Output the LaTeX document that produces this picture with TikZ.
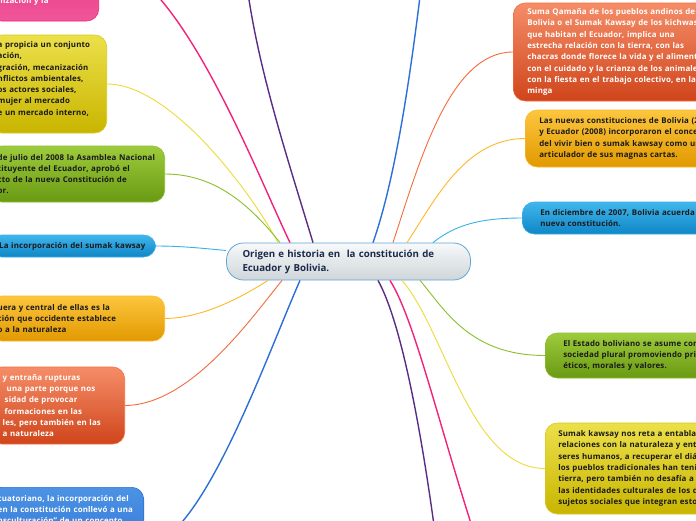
\documentclass[tikz,border=0pt]{standalone}
\usepackage{fontspec}
\setmainfont{Open Sans}[LetterSpace=1.8]
\newfontfamily\centrefont{Open Sans}
\usetikzlibrary{calc}
\hyphenpenalty=10000
\exhyphenpenalty=10000
\definecolor{pinkA}{HTML}{E0126C}\definecolor{pinkB}{HTML}{F0569A}\definecolor{pinkL}{HTML}{F2237D}
\definecolor{yelA}{HTML}{ECE04A}\definecolor{yelB}{HTML}{C9B500}\definecolor{yelL}{HTML}{EEDB3A}\definecolor{yelD}{HTML}{D9C821}
\definecolor{grnA}{HTML}{9DCB3C}\definecolor{grnB}{HTML}{6A9A12}\definecolor{grnL}{HTML}{8DBF2E}
\definecolor{lbA}{HTML}{3FB6EC}\definecolor{lbB}{HTML}{0F86C6}\definecolor{lbL}{HTML}{3AB0E8}
\definecolor{orA}{HTML}{FDC63E}\definecolor{orB}{HTML}{E19900}\definecolor{orL}{HTML}{FDB92A}
\definecolor{rdA}{HTML}{F58D68}\definecolor{rdB}{HTML}{D0451B}\definecolor{rdL}{HTML}{F46C3E}
\definecolor{bdA}{HTML}{4C93E4}\definecolor{bdB}{HTML}{1E62CB}\definecolor{bdL}{HTML}{2C6FD8}
\definecolor{purL}{HTML}{5A2D84}
\definecolor{cA}{HTML}{F7F9FA}\definecolor{cB}{HTML}{CFD5D9}\definecolor{cL}{HTML}{5FA6DA}
\definecolor{txt}{HTML}{1A1A1A}\definecolor{ctxt}{HTML}{1B2A4A}
\begin{document}
\begin{tikzpicture}[x=1pt,y=-1pt,
  box/.style={rectangle, rounded corners=12pt, draw, line width=0.6pt,
    font=\bfseries\fontsize{7.9}{11.3}\selectfont, align=left, inner ysep=4pt, text=txt},
  lbox/.style={box, anchor=east, inner xsep=8pt},
  rbox/.style={box, anchor=west, minimum width=260pt},
  link/.style={line width=0.9pt},
  blink/.style={line width=1.4pt},
  fpink/.style={top color=pinkA, bottom color=pinkB, draw=pinkL, text=white},
  fyel/.style={top color=yelA, bottom color=yelB, draw=yelD},
  fgrn/.style={top color=grnA, bottom color=grnB, draw=grnL},
  flb/.style={top color=lbA, bottom color=lbB, draw=lbL},
  for/.style={top color=orA, bottom color=orB, draw=orL},
  frd/.style={top color=rdA, bottom color=rdB, draw=rdL, text=white},
  fbd/.style={top color=bdA, bottom color=bdB, draw=bdL, text=white},
]
\useasboundingbox (0,0) rectangle (696,520);
\fill[white] (0,0) rectangle (696,520);
\clip (0,0) rectangle (696,520);

% centre
\node[rectangle, rounded corners=17pt, top color=cA, bottom color=cB, draw=cL, line width=0.8pt,
  minimum width=244pt, minimum height=37pt, inner xsep=16pt, text width=212pt, align=left,
  font=\centrefont\bfseries\fontsize{9.7}{14}\selectfont, text=ctxt] (C) at (348.5,261.5)
  {Origen e historia en~ la constitución de\\Ecuador y Bolivia.};

% left nodes
\node[lbox, fpink, minimum width=109pt, minimum height=121pt, text width=93pt,
  text height=87pt, text depth=2pt] (L1) at (99,-39.5) {nización y la};
\node[lbox, fyel, minimum width=117pt, minimum height=98pt, text width=101pt] (L2) at (107,84)
  {a propicia un conjunto\\ación,\\gración, mecanización\\nflictos ambientales,\\os actores sociales,\\mujer al mercado\\e un mercado interno,\\\mbox{}};
\node[lbox, fgrn, minimum width=175pt, minimum height=56pt, text width=159pt] (L3) at (165,174)
  {de julio del 2008 la Asamblea Nacional\\tituyente del Ecuador, aprobó el\\cto de la nueva Constitución de\\or.};
\node[lbox, flb, minimum width=166pt, minimum height=22pt, text width=147pt, inner xsep=9.5pt] (L4) at (156,246)
  {La incorporación del sumak kawsay};
\node[lbox, for, minimum width=175pt, minimum height=45pt, text width=159pt] (L5) at (165,318.5)
  {uera y central de ellas es la\\ción que occidente establece\\o a la naturaleza};
\node[lbox, frd, minimum width=135pt, minimum height=77pt, text width=119pt] (L6) at (125,405.5)
  {\hspace*{5pt}y entraña rupturas\\\hspace*{9pt}una parte porque nos\\\hspace*{7pt}sidad de provocar\\\hspace*{7pt}formaciones en las\\\hspace*{5pt}les, pero también en las\\\hspace*{5pt}a naturaleza};
\node[lbox, fbd, anchor=north east, minimum width=154pt, text width=138pt,
  text height=10pt, text depth=100pt] (L7) at (144,487)
  {cuatoriano, la incorporación del\\en la constitución conllevó a una\\nsculturación” de un concepto};

% right nodes
\node[rbox, frd, minimum height=98pt, inner xsep=14pt, text width=232pt] (R1) at (513,52)
  {Suma Qamaña de los pueblos andinos de\\Bolivia o el Sumak Kawsay de los kichwas\\que habitan el Ecuador, implica una\\estrecha relación con la tierra, con las\\chacras donde florece la vida y el alimento,\\con el cuidado y la crianza de los animales,\\con la fiesta en el trabajo colectivo, en la\\minga};
\node[rbox, for, minimum height=57pt, inner xsep=14pt, text width=232pt] (R2) at (525,138.5)
  {Las nuevas constituciones de Bolivia (20\\y Ecuador (2008) incorporaron el concep\\del vivir bien o sumak kawsay como un\\articulador de sus magnas cartas.};
\node[rbox, flb, minimum height=32pt, inner xsep=18pt, text width=224pt] (R3) at (522,218)
  {En diciembre de 2007, Bolivia acuerda u\\nueva constitución.};
\node[rbox, fgrn, minimum height=45pt, inner xsep=18pt, text width=224pt] (R4) at (545,355.5)
  {El Estado boliviano se asume com\\sociedad plural promoviendo prin\\éticos, morales y valores.};
\node[rbox, fyel, minimum height=91pt, inner xsep=13pt, text width=234pt] (R5) at (545,468.5)
  {Sumak kawsay nos reta a entablar\\relaciones con la naturaleza y entr\\seres humanos, a recuperar el diál\\los pueblos tradicionales han tenid\\tierra, pero también no desafía a e\\las identidades culturales de los di\\sujetos sociales que integran estos};

% off-picture ends
\coordinate (Tpur) at (245,-30);
\coordinate (Tblu) at (422,-20);
\coordinate (Bpur) at (436,540);
\coordinate (Bpnk) at (478,545);

% connectors
\draw[blink, pinkL] ($(C.north)+(-58.5,0)$) .. controls (255,170) and (175,-40) .. (L1.east);
\draw[blink, purL] ($(C.north)+(-35.5,0)$) .. controls (285,150) and (255,60) .. (Tpur);
\draw[blink, bdL] ($(C.north)+(24.5,0)$) .. controls (395,180) and (410,80) .. (Tblu);
\draw[link, yelL] ($(C.north)+(-70.5,0)$) .. controls (250,190) and (170,84) .. (L2.east);
\draw[link, grnL] ($(C.north)+(-68.5,0)$) .. controls (250,205) and (215,174) .. (L3.east);
\draw[link, lbL] ($(C.west)+(0,-11)$) .. controls (200,248) and (180,246) .. (L4.east);
\draw[link, orL] ($(C.south)+(-80.5,0)$) .. controls (245,295) and (205,318) .. (L5.east);
\draw[link, rdL] ($(C.south)+(-66.5,0)$) .. controls (250,320) and (190,405) .. (L6.east);
\draw[blink, bdL] ($(C.south)+(-48.5,0)$) .. controls (265,360) and (200,546) .. (L7.east);
\draw[blink, purL] ($(C.south)+(29.5,0)$) .. controls (400,320) and (420,420) .. (Bpur);
\draw[blink, pinkL] ($(C.south)+(41.5,0)$) .. controls (415,320) and (440,430) .. (Bpnk);
\draw[link, rdL] ($(C.north)+(44.5,0)$) .. controls (420,160) and (450,52) .. (R1.west);
\draw[link, orL] ($(C.north)+(58.5,0)$) .. controls (435,200) and (465,138.5) .. (R2.west);
\draw[link, lbL] ($(C.north)+(84.5,0)$) .. controls (455,225) and (480,218) .. (R3.west);
\draw[link, grnL] ($(C.south)+(71.5,0)$) .. controls (445,310) and (470,355.5) .. (R4.west);
\draw[link, yelL] ($(C.south)+(53.5,0)$) .. controls (445,330) and (470,468.5) .. (R5.west);
\end{tikzpicture}
\end{document}
